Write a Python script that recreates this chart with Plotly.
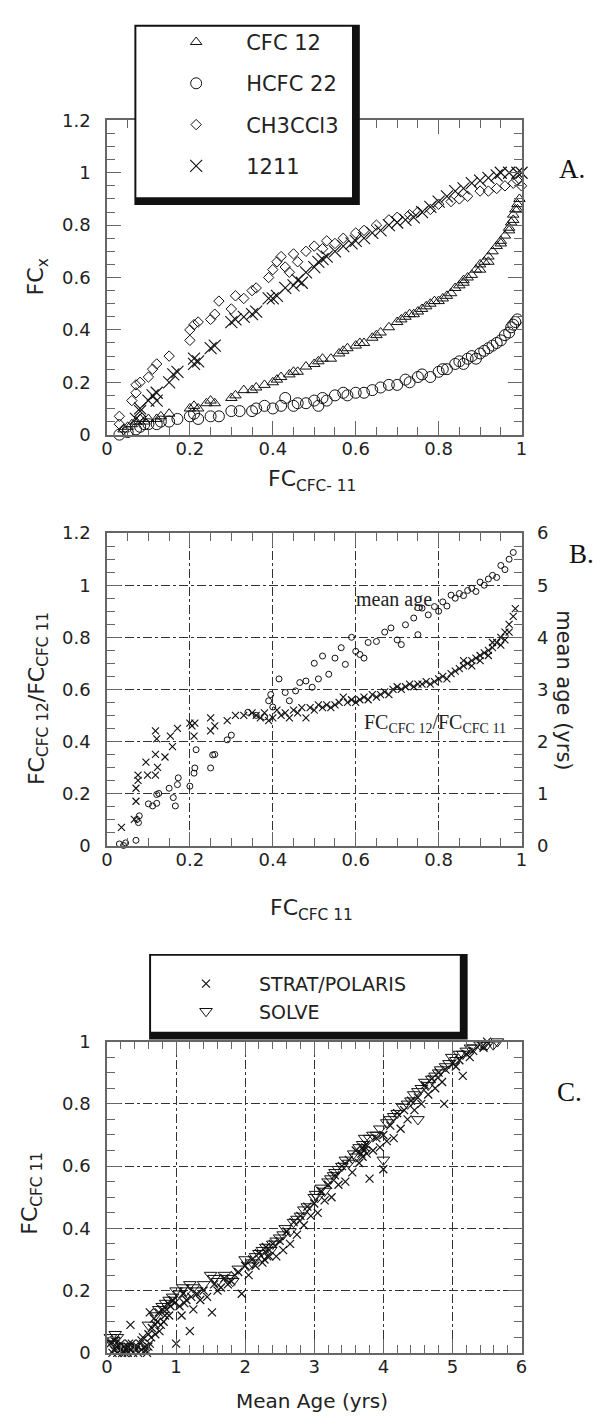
import plotly.graph_objects as go

W, H = 604, 1423

# ---------------- Panel A data ----------------
cfc12_x = [0.04,0.05,0.06,0.07,0.08,0.09,0.1,0.12,0.13,0.15,0.2,0.21,0.22,0.24,0.25,0.26,0.3,0.31,0.33,0.35,0.36,0.38,
           0.4,0.41,0.42,0.44,0.45,0.46,0.48,0.5,0.51,0.52,0.54,0.56,0.57,0.58,0.6,0.61,0.62,0.64,0.65,0.66,0.68,0.7,
           0.71,0.72,0.73,0.74,0.75,0.76,0.77,0.78,0.79,0.8,0.81,0.82,0.83,0.84,0.85,0.86,0.87,0.88,0.89,0.9,0.91,0.92,
           0.93,0.94,0.95,0.96,0.97,0.975,0.98,0.985,0.99,0.995,0.86,0.9,0.92,0.95,0.97,0.98,0.99]
cfc12_y = [0.02,0.03,0.04,0.05,0.06,0.05,0.06,0.06,0.07,0.08,0.1,0.11,0.1,0.12,0.13,0.12,0.14,0.15,0.17,0.17,0.18,0.19,
           0.2,0.21,0.22,0.23,0.24,0.24,0.26,0.27,0.28,0.29,0.29,0.31,0.32,0.33,0.34,0.35,0.35,0.37,0.38,0.39,0.41,0.43,
           0.44,0.45,0.46,0.46,0.47,0.48,0.49,0.5,0.51,0.51,0.52,0.53,0.54,0.56,0.57,0.58,0.6,0.61,0.63,0.65,0.66,0.68,
           0.7,0.72,0.74,0.76,0.79,0.81,0.84,0.86,0.88,0.9,0.59,0.63,0.66,0.73,0.78,0.82,0.86]

hcfc22_x = [0.03,0.05,0.07,0.08,0.09,0.1,0.12,0.13,0.15,0.17,0.2,0.21,0.22,0.25,0.27,0.3,0.32,0.35,0.36,0.38,0.4,0.42,
            0.43,0.45,0.46,0.48,0.5,0.51,0.52,0.53,0.55,0.57,0.58,0.6,0.62,0.64,0.66,0.68,0.7,0.72,0.73,0.75,0.76,0.78,
            0.8,0.81,0.82,0.84,0.85,0.86,0.87,0.88,0.89,0.9,0.91,0.92,0.93,0.94,0.95,0.96,0.97,0.975,0.98,0.985,0.99]
hcfc22_y = [0.0,0.01,0.02,0.03,0.04,0.04,0.04,0.05,0.05,0.06,0.07,0.08,0.06,0.07,0.07,0.09,0.09,0.09,0.1,0.11,0.1,0.11,
            0.14,0.11,0.12,0.12,0.13,0.11,0.14,0.13,0.15,0.16,0.15,0.16,0.16,0.17,0.18,0.19,0.19,0.21,0.2,0.22,0.23,0.22,
            0.24,0.25,0.25,0.27,0.28,0.27,0.29,0.3,0.29,0.31,0.32,0.33,0.34,0.35,0.36,0.38,0.39,0.41,0.42,0.43,0.44]

ch3ccl3_x = [0.03,0.03,0.04,0.06,0.07,0.07,0.08,0.1,0.11,0.12,0.15,0.2,0.2,0.21,0.22,0.25,0.26,0.27,0.3,0.31,0.33,0.35,
             0.36,0.39,0.4,0.41,0.42,0.43,0.44,0.45,0.46,0.48,0.5,0.52,0.53,0.55,0.57,0.6,0.62,0.65,0.68,0.7,0.73,0.75,
             0.78,0.8,0.83,0.85,0.87,0.9,0.92,0.94,0.96,0.98,0.99,1.0]
ch3ccl3_y = [0.04,0.07,0.02,0.13,0.16,0.19,0.2,0.22,0.25,0.27,0.3,0.36,0.4,0.42,0.43,0.44,0.46,0.51,0.48,0.53,0.52,0.55,
             0.56,0.6,0.63,0.66,0.68,0.64,0.62,0.69,0.66,0.7,0.72,0.71,0.74,0.73,0.75,0.77,0.78,0.8,0.82,0.83,0.84,0.85,
             0.86,0.88,0.89,0.9,0.91,0.93,0.93,0.94,0.95,0.96,0.97,0.95]

h1211_x = [0.07,0.08,0.08,0.1,0.11,0.12,0.12,0.15,0.16,0.17,0.21,0.21,0.22,0.25,0.26,0.3,0.31,0.33,0.35,0.36,0.39,0.4,
           0.41,0.43,0.45,0.46,0.47,0.48,0.5,0.51,0.52,0.53,0.55,0.57,0.59,0.6,0.62,0.64,0.66,0.68,0.7,0.72,0.74,0.76,
           0.78,0.8,0.82,0.84,0.86,0.88,0.9,0.92,0.94,0.95,0.97,0.99,1.0]
h1211_y = [0.06,0.09,0.1,0.13,0.15,0.16,0.13,0.2,0.23,0.24,0.27,0.29,0.28,0.33,0.34,0.43,0.44,0.45,0.46,0.47,0.52,0.52,
           0.53,0.56,0.57,0.59,0.58,0.62,0.64,0.66,0.67,0.68,0.7,0.72,0.73,0.74,0.75,0.77,0.78,0.8,0.81,0.82,0.83,0.85,
           0.87,0.89,0.91,0.93,0.94,0.96,0.97,0.98,0.99,1.0,1.0,1.0,1.0]

# ---------------- Panel B data ----------------
ratio_x = [0.035,0.066,0.07,0.075,0.075,0.07,0.094,0.098,0.117,0.117,0.117,0.12,0.122,0.14,0.153,0.158,0.17,0.2,0.205,
           0.21,0.212,0.25,0.26,0.25,0.29,0.31,0.33,0.35,0.36,0.37,0.38,0.39,0.4,0.41,0.42,0.43,0.44,0.45,0.46,0.47,
           0.48,0.49,0.5,0.51,0.52,0.53,0.54,0.55,0.56,0.57,0.58,0.59,0.6,0.61,0.62,0.63,0.64,0.65,0.66,0.67,0.68,0.69,
           0.7,0.71,0.72,0.73,0.74,0.75,0.76,0.77,0.78,0.79,0.8,0.81,0.82,0.83,0.84,0.85,0.86,0.87,0.88,0.89,0.9,0.91,
           0.92,0.93,0.94,0.95,0.96,0.97,0.98,0.985,0.86,0.88,0.9,0.92,0.93,0.95,0.96,0.97]
ratio_y = [0.07,0.1,0.22,0.25,0.27,0.17,0.32,0.27,0.44,0.35,0.27,0.41,0.3,0.34,0.42,0.38,0.45,0.47,0.46,
           0.42,0.47,0.49,0.46,0.44,0.48,0.5,0.5,0.51,0.5,0.49,0.51,0.48,0.49,0.52,0.5,0.51,0.49,0.52,0.51,0.53,
           0.49,0.53,0.52,0.54,0.53,0.54,0.53,0.54,0.55,0.57,0.55,0.56,0.55,0.56,0.57,0.56,0.58,0.57,0.58,0.59,0.58,0.6,
           0.61,0.6,0.61,0.62,0.61,0.62,0.62,0.63,0.62,0.63,0.64,0.65,0.64,0.66,0.67,0.68,0.69,0.7,0.71,0.72,0.73,0.74,
           0.75,0.76,0.78,0.8,0.82,0.85,0.88,0.91,0.71,0.69,0.71,0.73,0.78,0.77,0.79,0.82]

age_x = [0.03,0.04,0.045,0.07,0.076,0.072,0.078,0.1,0.11,0.12,0.12,0.125,0.15,0.16,0.165,0.17,0.172,0.2,0.21,0.212,
         0.215,0.25,0.255,0.26,0.29,0.3,0.34,0.36,0.38,0.39,0.395,0.4,0.415,0.43,0.44,0.455,0.465,0.48,0.495,0.5,0.51,
         0.52,0.535,0.55,0.565,0.575,0.59,0.6,0.61,0.62,0.63,0.65,0.67,0.685,0.7,0.71,0.72,0.74,0.75,0.76,0.775,0.79,
         0.8,0.81,0.82,0.83,0.84,0.85,0.86,0.87,0.88,0.89,0.9,0.91,0.92,0.93,0.94,0.95,0.96,0.97,0.98]
age_y = [0.03,0.0,0.05,0.1,0.44,0.5,0.57,0.8,0.76,0.98,0.81,1.0,1.1,0.92,0.76,1.17,1.3,1.14,1.39,1.49,
         1.84,1.49,1.74,1.75,2.03,2.12,2.56,2.5,2.47,2.78,2.9,2.66,3.2,2.94,2.78,2.97,3.13,3.16,3.04,3.5,3.2,
         3.64,3.29,3.6,3.8,3.48,4.0,3.73,3.67,3.6,3.9,3.92,4.1,4.18,3.95,3.86,4.24,4.37,4.05,4.56,4.43,4.59,
         4.5,4.68,4.6,4.81,4.75,4.84,4.8,4.9,4.94,4.88,5.06,5.0,5.12,5.19,5.15,5.38,5.3,5.5,5.63]

# ---------------- Panel C data ----------------
strat_age = [0.05,0.08,0.1,0.12,0.15,0.18,0.2,0.22,0.25,0.28,0.3,0.32,0.35,0.38,0.4,0.42,0.45,0.48,0.5,0.52,0.55,0.58,
             0.6,0.62,0.34,0.62,0.65,0.68,0.7,0.73,0.75,0.78,0.8,0.84,0.88,0.9,0.95,1.0,1.05,1.1,1.2,1.15,1.25,1.3,1.4,
             1.52,1.55,1.6,1.7,1.8,1.9,1.95,2.0,2.05,2.1,2.2,2.25,2.3,2.4,2.45,2.5,2.6,2.65,2.7,2.8,2.85,2.9,3.0,3.05,
             3.1,3.2,3.25,3.3,3.4,3.45,3.5,3.6,3.65,3.7,3.75,3.8,3.85,3.9,4.0,4.0,4.1,4.15,4.2,4.3,4.35,4.4,4.5,4.55,
             4.6,4.7,4.75,4.8,4.88,4.9,5.0,5.1,5.15,5.2,5.3,5.4,5.5,3.68,3.72,3.76,3.7,3.74,2.28,2.32,2.35,
             0.1,0.14,0.2,0.26,0.3,0.36,0.44,0.5,0.56,0.6,0.64,0.7,0.76,0.82,0.86,0.92,0.98,1.08,1.12,1.22,1.35,1.45,
             1.65,1.75,1.85,2.15,2.35,2.55,2.75,2.95,3.15,3.35,3.55,3.95,4.05,4.25,4.45,4.65,4.85,5.05,5.25,5.45]
strat_fc = [0.03,0.0,0.01,0.04,0.0,0.02,0.01,0.0,0.02,0.01,0.0,0.03,0.01,0.0,0.02,0.01,0.0,0.03,0.01,0.05,0.02,0.0,
            0.06,0.03,0.09,0.13,0.08,0.11,0.06,0.1,0.13,0.09,0.14,0.12,0.16,0.12,0.17,0.03,0.15,0.19,0.07,0.17,0.14,0.19,0.2,
            0.13,0.22,0.2,0.24,0.23,0.26,0.19,0.28,0.25,0.3,0.32,0.29,0.34,0.35,0.31,0.36,0.39,0.35,0.42,0.44,0.41,0.47,0.48,0.45,
            0.52,0.54,0.5,0.57,0.6,0.55,0.62,0.65,0.61,0.66,0.67,0.56,0.65,0.69,0.59,0.7,0.73,0.69,0.77,0.78,0.75,0.81,0.82,0.8,
            0.86,0.88,0.85,0.9,0.8,0.91,0.93,0.94,0.89,0.96,0.97,0.99,1.0,0.64,0.65,0.64,0.63,0.66,0.3,0.31,0.33,
            0.04,0.02,0.03,0.0,0.02,0.03,0.02,0.04,0.01,0.02,0.05,0.09,0.07,0.1,0.14,0.15,0.16,0.12,0.16,0.18,0.17,0.18,
            0.21,0.22,0.25,0.28,0.31,0.33,0.38,0.44,0.49,0.54,0.58,0.66,0.68,0.72,0.78,0.83,0.87,0.92,0.95,0.98]

solve_age = [0.05,0.1,0.15,0.2,0.3,0.7,0.8,0.9,1.0,1.05,1.1,1.2,1.3,1.5,1.6,1.75,1.82,1.9,2.0,2.1,2.2,2.3,2.37,2.45,2.5,
             2.58,2.65,2.7,2.8,2.9,3.0,3.02,3.1,3.2,3.24,3.3,3.35,3.45,3.57,3.65,3.73,3.85,3.95,4.0,4.05,4.15,4.28,4.35,
             4.44,4.5,4.5,4.6,4.7,4.8,4.83,4.9,4.99,5.1,5.2,5.26,5.4,5.5,5.59,5.65,
             0.08,0.12,0.6,0.75,0.85,0.95,1.15,1.25,1.4,1.55,1.7,2.05,2.15,2.25,2.4,2.55,2.75,2.85,3.05,3.15,3.28,3.4,
             3.5,3.6,3.7,3.8,3.9,4.1,4.2,4.4,4.55,4.65,4.75,4.95,5.05,5.15,5.3,5.45]
solve_fc = [0.05,0.04,0.05,0.01,0.02,0.12,0.15,0.17,0.2,0.19,0.21,0.22,0.2,0.25,0.23,0.24,0.23,0.27,0.3,0.29,0.32,0.34,0.33,0.36,0.37,
            0.4,0.39,0.42,0.44,0.47,0.5,0.51,0.53,0.55,0.56,0.58,0.59,0.62,0.64,0.66,0.69,0.7,0.72,0.62,0.74,0.76,0.79,0.8,
            0.83,0.84,0.75,0.87,0.88,0.9,0.91,0.92,0.95,0.96,0.97,0.98,0.99,0.99,0.99,1.0,
            0.03,0.06,0.09,0.14,0.16,0.18,0.2,0.21,0.22,0.24,0.25,0.28,0.31,0.33,0.35,0.38,0.43,0.46,0.5,0.52,0.57,0.6,
            0.61,0.63,0.67,0.69,0.7,0.75,0.77,0.81,0.85,0.86,0.89,0.93,0.94,0.96,0.98,0.99]

# ---------------- Figure ----------------
def px_x(p):
    return p / W

def px_y(p):
    return 1 - p / H

LEFT, RIGHT = 103, 526
A_TOP, A_BOT = 111, 430
B_TOP, B_BOT = 530, 847
C_TOP, C_BOT = 1046, 1362

BLACK = "#111111"
AXC = "#666666"
SANS = "DejaVu Sans"
SERIF = "Liberation Serif"

fig = go.Figure()

def mk(symbol, size, lw=1.0):
    return dict(symbol=symbol, size=size, color=BLACK, line=dict(color=BLACK, width=lw))

fig.add_trace(go.Scatter(x=cfc12_x, y=cfc12_y, mode="markers", name="CFC 12", legendgroup="a", legend="legend",
                         marker=mk("triangle-up-open", 10), xaxis="x", yaxis="y", cliponaxis=False))
fig.add_trace(go.Scatter(x=hcfc22_x, y=hcfc22_y, mode="markers", name="HCFC 22", legendgroup="b", legend="legend",
                         marker=mk("circle-open", 11), xaxis="x", yaxis="y", cliponaxis=False))
fig.add_trace(go.Scatter(x=ch3ccl3_x, y=ch3ccl3_y, mode="markers", name="CH3CCl3", legendgroup="c", legend="legend",
                         marker=mk("diamond-open", 8), xaxis="x", yaxis="y", cliponaxis=False))
fig.add_trace(go.Scatter(x=h1211_x, y=h1211_y, mode="markers", name="1211", legendgroup="d", legend="legend",
                         marker=mk("x-thin-open", 12, 1.1), xaxis="x", yaxis="y", cliponaxis=False))

fig.add_trace(go.Scatter(x=ratio_x, y=ratio_y, mode="markers", name="FC12/FC11", showlegend=False,
                         marker=mk("x-thin-open", 7, 1.1), xaxis="x2", yaxis="y2", cliponaxis=False))
fig.add_trace(go.Scatter(x=age_x, y=age_y, mode="markers", name="mean age", showlegend=False,
                         marker=mk("circle-open", 6, 1.0), xaxis="x2", yaxis="y3", cliponaxis=False))

fig.add_trace(go.Scatter(x=strat_age, y=strat_fc, mode="markers", name="STRAT/POLARIS", legendgroup="e", legend="legend2",
                         marker=mk("x-thin-open", 8, 1.2), xaxis="x3", yaxis="y4", cliponaxis=False))
fig.add_trace(go.Scatter(x=solve_age, y=solve_fc, mode="markers", name="SOLVE", legendgroup="f", legend="legend2",
                         marker=mk("triangle-down-open", 11, 1.0), xaxis="x3", yaxis="y4", cliponaxis=False))

tickfont = dict(family=SANS, size=18, color="#222222")

def axis(rng, dtick, mdtick, grid=False, mirror="ticks", standoff=11, **kw):
    d = dict(range=rng, dtick=dtick, tick0=0, showline=True, linecolor=AXC, linewidth=1.5, mirror=mirror,
             ticks="inside", ticklen=14, tickwidth=1.3, tickcolor=AXC,
             minor=dict(ticks="inside", ticklen=8, tickwidth=1.1, tickcolor=AXC, dtick=mdtick, tick0=0, showgrid=False),
             showgrid=grid, gridcolor="#333333", gridwidth=1, griddash="dashdot", zeroline=False,
             tickfont=tickfont, ticklabelstandoff=standoff, fixedrange=True)
    d.update(kw)
    return d

xdom = [px_x(LEFT), px_x(RIGHT)]
fig.update_layout(
    width=W, height=H, margin=dict(l=0, r=0, t=0, b=0),
    paper_bgcolor="white", plot_bgcolor="white",
    xaxis=axis([0, 1], 0.2, 0.05, domain=xdom, anchor="y", standoff=-3),
    yaxis=axis([0, 1.2], 0.2, 0.05, domain=[px_y(A_BOT), px_y(A_TOP)], anchor="x"),
    xaxis2=axis([0, 1], 0.2, 0.05, grid=True, domain=xdom, anchor="y2", standoff=-3),
    yaxis2=axis([0, 1.2], 0.2, 0.05, grid=True, mirror=True, domain=[px_y(B_BOT), px_y(B_TOP)], anchor="x2"),
    yaxis3=axis([0, 6], 1, 0.25, mirror=False, overlaying="y2", side="right", anchor="x2", standoff=10),
    xaxis3=axis([0, 6], 1, 0.2, grid=True, domain=xdom, anchor="y4", standoff=-3),
    yaxis4=axis([0, 1], 0.2, 0.05, grid=True, domain=[px_y(C_BOT), px_y(C_TOP)], anchor="x3"),
    legend=dict(x=px_x(143), y=px_y(11), xanchor="left", yanchor="top", bgcolor="rgba(0,0,0,0)",
                borderwidth=0, traceorder="grouped", tracegroupgap=11, itemsizing="trace", itemwidth=90,
                font=dict(family=SANS, size=21, color="#222222"), itemclick=False),
    legend2=dict(x=px_x(150), y=px_y(968), xanchor="left", yanchor="top", bgcolor="rgba(0,0,0,0)",
                 borderwidth=0, traceorder="grouped", tracegroupgap=0, itemsizing="trace", itemwidth=96,
                 font=dict(family=SANS, size=19, color="#222222"), itemclick=False),
    showlegend=True,
)

# legend boxes (thin top/left border, thick right/bottom border)
def box(x0, y0, x1, y1, thin=2, thick=8):
    fig.add_shape(type="rect", xref="paper", yref="paper", x0=px_x(x0), x1=px_x(x1), y0=px_y(y1), y1=px_y(y0),
                  fillcolor=BLACK, line=dict(width=0), layer="above")
    fig.add_shape(type="rect", xref="paper", yref="paper", x0=px_x(x0 + thin), x1=px_x(x1 - thick),
                  y0=px_y(y1 - thick), y1=px_y(y0 + thin), fillcolor="white", line=dict(width=0), layer="above")

box(131, 14, 361, 197)
box(146, 957, 471, 1044)

def ann(text, x, y, size, family=SANS, angle=0, color="#222222"):
    fig.add_annotation(text=text, x=px_x(x), y=px_y(y), xref="paper", yref="paper", showarrow=False,
                       textangle=angle, font=dict(family=family, size=size, color=color),
                       xanchor="center", yanchor="middle")

# axis titles
ann("FC<sub>x</sub>", 32, 270, 22, angle=-90)
ann("FC<sub>CFC- 11</sub>", 312, 477, 22)
ann("FC<sub>CFC 12</sub>/FC<sub>CFC 11</sub>", 33, 698, 22, angle=-90)
ann("mean age (yrs)", 569, 689, 21, angle=90)
ann("FC<sub>CFC 11</sub>", 312, 912, 22)
ann("FC<sub>CFC 11</sub>", 26, 1200, 22, angle=-90)
ann("Mean Age (yrs)", 312, 1411, 20)

# panel letters
ann("A.", 577, 160, 27, family=SERIF, color="#111111")
ann("B.", 587, 551, 27, family=SERIF, color="#111111")
ann("C.", 575, 1097, 27, family=SERIF, color="#111111")

# curve labels in panel B (data coordinates)
fig.add_annotation(text="mean age", x=0.693, y=0.947, xref="x2", yref="y2", showarrow=False,
                   font=dict(family=SERIF, size=20, color="#222222"))
fig.add_annotation(text="FC<sub>CFC 12</sub>/FC<sub>CFC 11</sub>", x=0.792, y=0.47, xref="x2", yref="y2",
                   showarrow=False, font=dict(family=SERIF, size=20, color="#222222"))

fig.write_html("out.html", config={"displayModeBar": False},
               post_script="document.body.style.margin='0';document.body.style.padding='0';")
